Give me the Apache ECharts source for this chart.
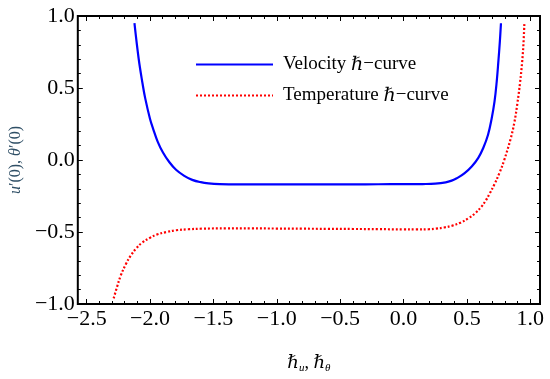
<!DOCTYPE html>
<html>
<head>
<meta charset="utf-8">
<script src="https://cdn.jsdelivr.net/npm/echarts@6/dist/echarts.min.js"></script>
<style>html,body{margin:0;padding:0;background:#fff;}#c{width:550px;height:379px;}</style>
</head>
<body>
<div id="c"></div>
<script>
// ---- data ----
const seriesNames = ['Velocity', 'Temperature'];
const velX = [-2.123, -2.09, -2.06, -2.038, -2.0, -1.975, -1.94, -1.898, -1.85, -1.795, -1.73, -1.667, -1.6, -1.538, -1.45, -1.3, -1.1, -0.9, -0.7, -0.5, -0.3, -0.1, 0.05, 0.15, 0.25, 0.333, 0.38, 0.42, 0.48, 0.54, 0.59, 0.63, 0.667, 0.695, 0.718, 0.735, 0.749, 0.76, 0.769];
const velY = [0.95, 0.705, 0.535, 0.428, 0.285, 0.215, 0.128, 0.052, -0.012, -0.068, -0.11, -0.138, -0.154, -0.162, -0.167, -0.169, -0.169, -0.169, -0.169, -0.169, -0.169, -0.168, -0.168, -0.167, -0.164, -0.155, -0.143, -0.127, -0.093, -0.043, 0.015, 0.085, 0.175, 0.285, 0.405, 0.54, 0.69, 0.82, 0.95];
const tempX = [-2.287, -2.26, -2.231, -2.19, -2.154, -2.11, -2.064, -2.0, -1.948, -1.87, -1.795, -1.7, -1.59, -1.4, -1.2, -1.0, -0.8, -0.6, -0.4, -0.2, 0.0, 0.1, 0.2, 0.256, 0.32, 0.385, 0.45, 0.513, 0.565, 0.615, 0.65, 0.679, 0.718, 0.757, 0.795, 0.846, 0.875, 0.898, 0.92, 0.936, 0.946, 0.954];
const tempY = [-0.961, -0.88, -0.802, -0.722, -0.666, -0.615, -0.575, -0.54, -0.518, -0.50, -0.488, -0.481, -0.477, -0.475, -0.475, -0.476, -0.477, -0.478, -0.479, -0.480, -0.482, -0.482, -0.481, -0.477, -0.469, -0.456, -0.435, -0.404, -0.37, -0.324, -0.28, -0.235, -0.168, -0.09, 0.0, 0.15, 0.262, 0.39, 0.54, 0.68, 0.80, 0.95];
const xTicks = [-2.5, -2.0, -1.5, -1.0, -0.5, 0.0, 0.5, 1.0];
const yTicks = [-1.0, -0.5, 0.0, 0.5, 1.0];
const xRange = [-2.57, 1.077];
const yRange = [-1, 1];

// ---- helpers ----
const zip = (a, b) => a.map((v, i) => [v, b[i]]);
const fmt = v => (Math.abs(v) < 1e-9 ? 0 : v).toFixed(1).replace('-', '\u2212');
const xMinor = [];
for (let k = -25; k <= 10; k++) { if (k % 5 !== 0) xMinor.push(k / 10); }

const FONT = '"Liberation Serif", "DejaVu Serif", serif';
const TICKFS = 22;

function xAx(pos, ticks, len, labels) {
  return {
    type: 'value', gridIndex: 0, position: pos, min: xRange[0], max: xRange[1],
    axisLine: { show: false, onZero: false }, splitLine: { show: false },
    axisTick: { show: true, inside: true, length: len, customValues: ticks, lineStyle: { color: '#000', width: 1 } },
    axisLabel: labels ? { show: true, customValues: ticks, formatter: fmt, margin: 4, color: '#000', fontFamily: FONT, fontSize: TICKFS } : { show: false }
  };
}

const chart = echarts.init(document.getElementById('c'), null, { renderer: 'canvas' });
const option = {
  animation: false,
  backgroundColor: '#fff',
  grid: { left: 66, right: 10, top: 16, bottom: 70, show: true, borderColor: '#000', borderWidth: 2, backgroundColor: 'transparent' },
  legend: {
    orient: 'vertical', left: 195, top: 55, padding: 0, itemGap: 12, itemWidth: 77, itemHeight: 16,
    data: seriesNames,
    itemStyle: { opacity: 0, borderWidth: 0 },
    formatter: n => '{t|' + n + ' }{h|\u210F}{t|\u2212curve}',
    textStyle: {
      padding: [0, 0, 0, 5],
      rich: {
        t: { fontFamily: FONT, fontSize: 19, color: '#000' },
        h: { fontFamily: FONT, fontSize: 19, fontStyle: 'italic', color: '#000' }
      }
    }
  },
  xAxis: [
    Object.assign(xAx('bottom', xTicks, 5, true), {
      name: '{h|\u210F}{s|u}{c|, }{h|\u210F}{s|\u03B8}',
      nameLocation: 'middle', nameGap: 48,
      nameTextStyle: {
        rich: {
          h: { fontFamily: FONT, fontStyle: 'italic', fontSize: 18, color: '#000', lineHeight: 22, verticalAlign: 'middle' },
          s: { fontFamily: FONT, fontStyle: 'italic', fontSize: 11, color: '#000', lineHeight: 12, verticalAlign: 'bottom' },
          c: { fontFamily: FONT, fontSize: 18, color: '#000', lineHeight: 22 }
        }
      }
    }),
    xAx('bottom', xMinor, 3, false),
    xAx('top', xTicks, 5, false),
    xAx('top', xMinor, 3, false)
  ],
  yAxis: [
    {
      type: 'value', gridIndex: 0, position: 'left', min: yRange[0], max: yRange[1], interval: 0.5,
      axisLine: { show: false, onZero: false }, splitLine: { show: false },
      axisTick: { show: true, inside: true, length: 5, lineStyle: { color: '#000' } },
      minorTick: { show: true, splitNumber: 5, length: 3, lineStyle: { color: '#000' } },
      axisLabel: { customValues: yTicks, formatter: fmt, margin: 3, color: '#000', fontFamily: FONT, fontSize: TICKFS },
      name: '{i|u}{n|\u2032(0), }{i|\u03B8}{n|\u2032(0)}',
      nameLocation: 'middle', nameGap: 42, nameRotate: 90,
      nameTextStyle: {
        rich: {
          i: { fontFamily: FONT, fontStyle: 'italic', fontSize: 16, color: '#2f4f66' },
          n: { fontFamily: FONT, fontSize: 16, color: '#2f4f66' }
        }
      }
    },
    {
      type: 'value', gridIndex: 0, position: 'right', min: yRange[0], max: yRange[1], interval: 0.5,
      axisLine: { show: false, onZero: false }, splitLine: { show: false },
      axisTick: { show: true, inside: true, length: 5, lineStyle: { color: '#000' } },
      minorTick: { show: true, splitNumber: 5, length: 3, lineStyle: { color: '#000' } },
      axisLabel: { show: false }
    }
  ],
  series: [
    {
      name: seriesNames[0], type: 'line', xAxisIndex: 0, yAxisIndex: 0,
      data: zip(velX, velY), symbol: 'none', smooth: 0.4,
      lineStyle: { color: '#0000ff', width: 2.2, type: 'solid' }, itemStyle: { color: '#0000ff' }
    },
    {
      name: seriesNames[1], type: 'line', xAxisIndex: 0, yAxisIndex: 0,
      data: zip(tempX, tempY), symbol: 'none', smooth: 0.4,
      lineStyle: { color: '#ff0000', width: 2.2, type: [2, 2] }, itemStyle: { color: '#ff0000' }
    }
  ]
};
chart.setOption(option);
</script>
</body>
</html>
